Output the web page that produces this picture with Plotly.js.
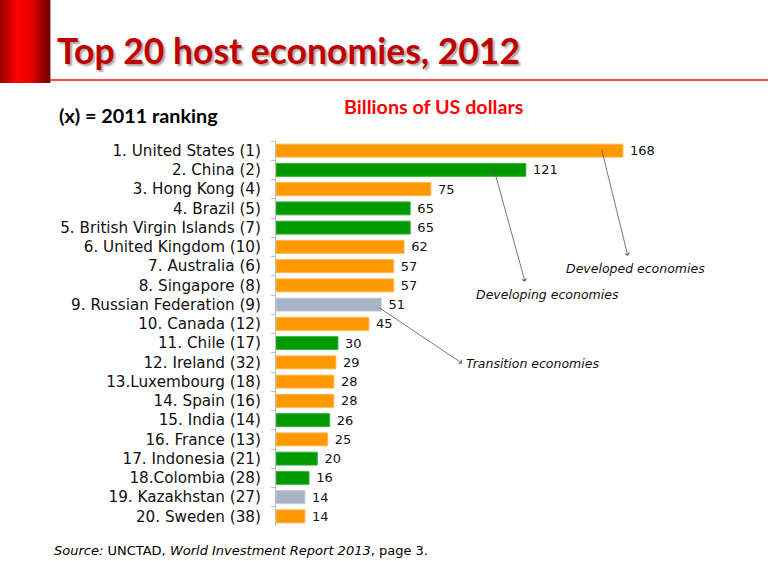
<!DOCTYPE html>
<html>
<head>
<meta charset="utf-8">
<script src="https://cdn.plot.ly/plotly-3.0.1.min.js"></script>
<style>
  html, body { margin: 0; padding: 0; background: #fff; }
  #chart { width: 768px; height: 561px; }
</style>
</head>
<body>
<div id="chart"></div>
<script>
// ---- data ----
const categories = [
  "1. United States (1)", "2. China (2)", "3. Hong Kong (4)", "4. Brazil (5)",
  "5. British Virgin Islands (7)", "6. United Kingdom (10)", "7. Australia (6)",
  "8. Singapore (8)", "9. Russian Federation (9)", "10. Canada (12)",
  "11. Chile (17)", "12. Ireland (32)", "13.Luxembourg (18)", "14. Spain (16)",
  "15. India (14)", "16. France (13)", "17. Indonesia (21)", "18.Colombia (28)",
  "19. Kazakhstan (27)", "20. Sweden (38)"
];
const values = [168, 121, 75, 65, 65, 62, 57, 57, 51, 45, 30, 29, 28, 28, 26, 25, 20, 16, 14, 14];
const groups = [
  "developed", "developing", "developed", "developing", "developing", "developed",
  "developed", "developed", "transition", "developed", "developing", "developed",
  "developed", "developed", "developing", "developed", "developing", "developing",
  "transition", "developed"
];
const groupLabels = {
  developed: "Developed economies",
  developing: "Developing economies",
  transition: "Transition economies"
};

// ---- styles ----
const fillColors = { developed: "#FF9900", developing: "#009900", transition: "#A6B4C5" };
const edgeColors = { developed: "#FFB447", developing: "#3DB03D", transition: "#C3CDD9" };

// plot-area geometry in pixels (for placing decorations)
const W = 768, H = 561;
const M = { l: 276, r: 79, t: 141, b: 35 };
const L = M.l, R = W - M.r, T = M.t, B = H - M.b;
const PX = x => (x - L) / (R - L);
const PY = y => (B - y) / (B - T);

const trace = {
  type: "bar",
  orientation: "h",
  y: categories,
  x: values,
  marker: {
    color: groups.map(g => fillColors[g]),
    line: { color: groups.map(g => edgeColors[g]), width: 1 }
  },
  text: values.map(v => " " + v),
  textposition: "outside",
  constraintext: "none",
  textfont: { family: "DejaVu Sans", size: 13, color: "#111" },
  cliponaxis: false,
  hoverinfo: "none"
};

// gradient red block at top-left made of thin strips
const shapes = [];
const nStrips = 50;
function lerp(a, b, t) { return Math.round(a + (b - a) * t); }
function blockColor(t) {
  const stops = [[0, [150, 0, 0]], [0.35, [255, 0, 0]], [0.6, [235, 0, 0]], [1, [110, 0, 0]]];
  for (let i = 0; i < stops.length - 1; i++) {
    const [t0, c0] = stops[i], [t1, c1] = stops[i + 1];
    if (t >= t0 && t <= t1) {
      const u = (t - t0) / (t1 - t0);
      return `rgb(${lerp(c0[0], c1[0], u)},${lerp(c0[1], c1[1], u)},${lerp(c0[2], c1[2], u)})`;
    }
  }
  return "rgb(110,0,0)";
}
for (let i = 0; i < nStrips; i++) {
  const x0 = i * 50 / nStrips, x1 = (i + 1) * 50 / nStrips + 0.4;
  shapes.push({
    type: "rect", xref: "paper", yref: "paper", layer: "above",
    x0: PX(x0), x1: PX(x1), y0: PY(83), y1: PY(0),
    fillcolor: blockColor((i + 0.5) / nStrips), line: { width: 0 }
  });
}
// red rule under the title
shapes.push({
  type: "line", xref: "paper", yref: "paper",
  x0: PX(50), x1: PX(768), y0: PY(80), y1: PY(80),
  line: { color: "#EE1C1C", width: 1.6 }
});

const arrowStyle = {
  showarrow: true, arrowhead: 4, arrowsize: 1.1, arrowwidth: 0.8,
  arrowcolor: "#555", text: "", axref: "x", ayref: "y", xref: "x", yref: "y"
};
const noteFont = { family: "DejaVu Sans", size: 12.5, color: "#111", style: "italic" };

const annotations = [
  // arrows (tail on bar -> head near label)
  Object.assign({}, arrowStyle, { x: 170.4, y: 5.47, ax: 157.5, ay: -0.14 }),
  Object.assign({}, arrowStyle, { x: 120.6, y: 6.81, ax: 105.3, ay: 0.87 }),
  Object.assign({}, arrowStyle, { x: 90.2, y: 11.05, ax: 49.3, ay: 8.11 }),
  // group labels
  { x: 139.5, y: 6.10, xref: "x", yref: "y", xanchor: "left", yanchor: "middle",
    text: groupLabels.developed, showarrow: false, font: noteFont },
  { x: 96.0, y: 7.45, xref: "x", yref: "y", xanchor: "left", yanchor: "middle",
    text: groupLabels.developing, showarrow: false, font: noteFont },
  { x: 90.8, y: 11.08, xref: "x", yref: "y", xanchor: "left", yanchor: "middle",
    text: groupLabels.transition, showarrow: false, font: noteFont },
  // subtitle texts
  { xref: "paper", yref: "paper", x: PX(57), y: PY(115), xanchor: "left", yanchor: "middle",
    text: "<b>(x) = 2011 ranking</b>", showarrow: false,
    font: { family: "Lato", size: 19.8, color: "#000" } },
  { xref: "paper", yref: "paper", x: PX(342), y: PY(106), xanchor: "left", yanchor: "middle",
    text: "<b>Billions of US dollars</b>", showarrow: false,
    font: { family: "Lato", size: 19.7, color: "#FF0000" } },
  // source
  { xref: "paper", yref: "paper", x: PX(52), y: PY(550), xanchor: "left", yanchor: "middle",
    text: "<i>Source:</i> UNCTAD, <i>World Investment Report 2013</i>, page 3.", showarrow: false,
    font: { family: "DejaVu Sans", size: 13, color: "#000" } }
];

const layout = {
  width: W, height: H,
  margin: M,
  paper_bgcolor: "#fff", plot_bgcolor: "#fff",
  showlegend: false,
  bargap: 0.325,
  title: {
    text: "<b>Top 20 host economies, 2012</b>",
    xref: "container", yref: "container",
    x: 57 / W, y: 1 - 52 / H, xanchor: "left", yanchor: "middle",
    font: { family: "Lato", size: 35.5, color: "#C00000", shadow: "2px 2px 2px rgba(0,0,0,0.35)" }
  },
  xaxis: {
    range: [0, 200], showgrid: false, zeroline: false, showticklabels: false,
    showline: false, ticks: "", fixedrange: true
  },
  yaxis: {
    type: "category", range: [19.5, -0.5], showgrid: false, zeroline: false,
    showline: true, linecolor: "#BFBFBF", linewidth: 1,
    ticks: "outside", tickson: "boundaries", ticklen: 4, tickcolor: "#BFBFBF", tickwidth: 1,
    ticklabelstandoff: 11,
    tickfont: { family: "DejaVu Sans", size: 15.2, color: "#111" },
    fixedrange: true
  },
  shapes: shapes,
  annotations: annotations
};

Plotly.newPlot("chart", [trace], layout, { displayModeBar: false, staticPlot: true });
</script>
</body>
</html>
